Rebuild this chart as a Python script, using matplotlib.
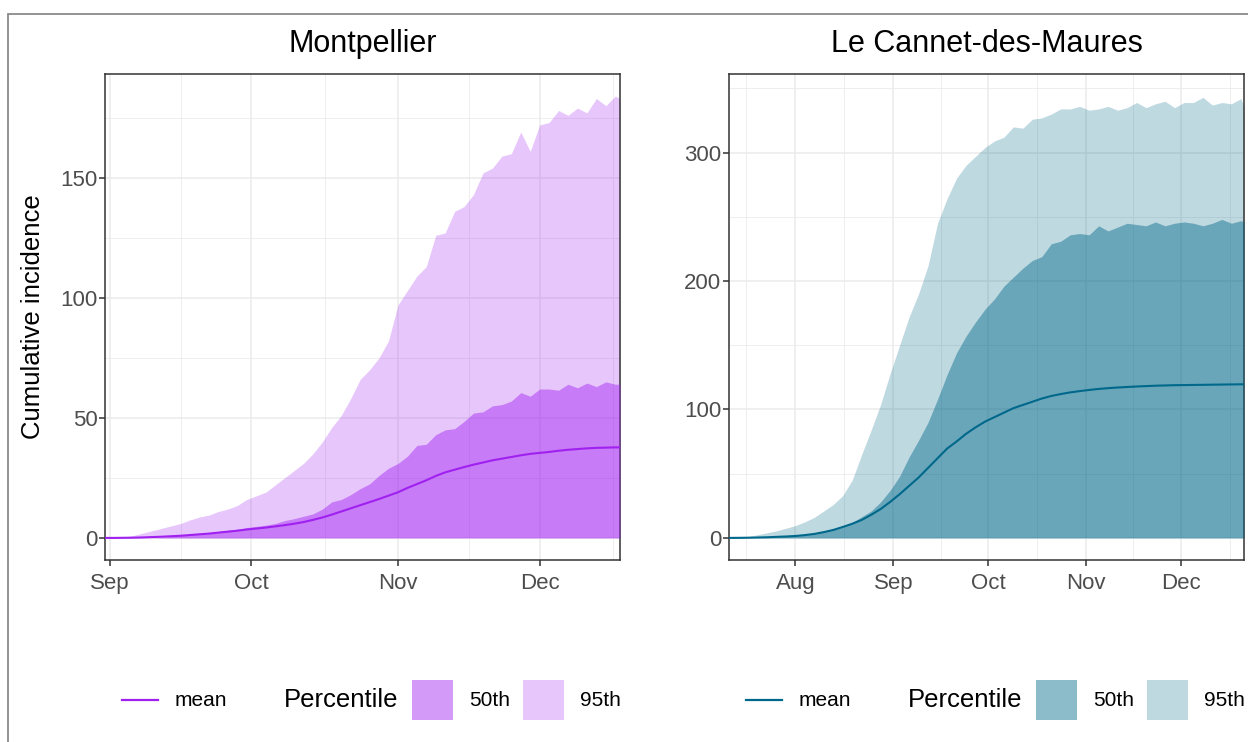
import matplotlib
matplotlib.use("Agg")
import matplotlib.pyplot as plt
import matplotlib.dates as mdates
import matplotlib.ticker as mticker
import numpy as np
import pandas as pd
from matplotlib.patches import Rectangle
from matplotlib.lines import Line2D

plt.rcParams['font.family'] = ['Liberation Sans', 'DejaVu Sans']

YEAR = 2021

# ---------------- Montpellier ----------------
mtp_dates = ["08-31", "09-02", "09-04", "09-06", "09-08", "09-10", "09-12", "09-14", "09-16", "09-18",
             "09-20", "09-22", "09-24", "09-26", "09-28", "09-30", "10-02", "10-04", "10-06", "10-08",
             "10-10", "10-12", "10-14", "10-16", "10-18", "10-20", "10-22", "10-24", "10-26", "10-28",
             "10-30", "11-01", "11-03", "11-05", "11-07", "11-09", "11-11", "11-13", "11-15", "11-17",
             "11-19", "11-21", "11-23", "11-25", "11-27", "11-29", "12-01", "12-03", "12-05", "12-07",
             "12-09", "12-11", "12-13", "12-15", "12-17", "12-18"]
mtp_p95 = [0, 0, 0.3, 1, 2, 3, 4, 5, 6, 7.5,
           8.7, 9.5, 11, 12, 13.5, 16, 17.5, 19, 22, 25,
           28, 31, 35, 40, 46, 51, 58, 66, 70, 75,
           82, 97, 103, 109, 113, 126, 127, 136, 138, 143,
           152, 154, 159, 160, 169, 161, 172, 173, 178, 176,
           179, 177, 183, 180, 184, 183]
mtp_p50 = [0, 0, 0, 0, 0, 0, 0.2, 0.6, 1, 1.4,
           1.8, 2.2, 2.7, 3.2, 3.6, 4.3, 4.8, 5.3, 6, 7.2,
           8, 9, 10, 12, 15, 16, 18, 20.5, 22.5, 26,
           29, 31, 34, 38.5, 39, 43, 45, 45.5, 48.5, 52,
           52.5, 55, 55.5, 57, 60.5, 59, 62, 62, 61.5, 64,
           62.5, 64.5, 63, 65, 64, 64]
mtp_mean = [0, 0, 0.05, 0.1, 0.2, 0.35, 0.5, 0.7, 0.9, 1.2,
            1.5, 1.8, 2.2, 2.6, 3.0, 3.5, 3.9, 4.3, 4.8, 5.3,
            5.9, 6.6, 7.5, 8.5, 9.7, 11, 12.3, 13.6, 14.9, 16.2,
            17.6, 19, 20.8, 22.4, 24, 25.8, 27.3, 28.4, 29.5, 30.5,
            31.4, 32.3, 33, 33.7, 34.4, 35, 35.4, 35.8, 36.3, 36.7,
            37, 37.3, 37.5, 37.6, 37.7, 37.7]

# ---------------- Le Cannet-des-Maures ----------------
lcm_dates = ["07-11", "07-14", "07-17", "07-20", "07-23", "07-26", "07-29", "08-01", "08-04", "08-07",
             "08-10", "08-13", "08-16", "08-19", "08-22", "08-25", "08-28", "08-31", "09-03", "09-06",
             "09-09", "09-12", "09-15", "09-18", "09-21", "09-24", "09-27", "09-30", "10-03", "10-06",
             "10-09", "10-12", "10-15", "10-18", "10-21", "10-24", "10-27", "10-30", "11-02", "11-05",
             "11-08", "11-11", "11-14", "11-17", "11-20", "11-23", "11-26", "11-29", "12-02", "12-05",
             "12-08", "12-11", "12-14", "12-17", "12-20", "12-21"]
lcm_p95 = [0, 0.3, 1, 2.5, 4, 5.5, 7.5, 9.6, 12.5, 16,
           21, 26, 33, 45, 65, 84, 104, 128, 150, 172,
           190, 212, 245, 264, 280, 290, 297, 304, 309, 312,
           320, 319, 326, 327, 330, 334, 334, 336, 333, 334,
           336, 333, 335, 339, 335, 338, 340, 335, 339, 339,
           343, 337, 339, 338, 342, 336]
lcm_p50 = [0, 0, 0, 0, 0.3, 0.7, 1.2, 1.8, 2.5, 3.5,
           4.8, 6.5, 8.5, 12, 16.5, 21, 28, 37, 48, 63,
           76, 90, 108, 127, 144, 157, 168, 178, 186, 196,
           203, 210, 216, 219, 229, 231, 236, 237, 236, 243,
           239, 242, 245, 244, 243, 246, 243, 245, 246, 245,
           243, 245, 248, 245, 247, 246]
lcm_mean = [0, 0.05, 0.15, 0.3, 0.5, 0.8, 1.1, 1.5, 2.2, 3.1,
            4.5, 6.2, 8.5, 11, 14, 18, 22.5, 28, 34, 40.5,
            47, 54.5, 62, 69.5, 75, 81, 86, 90.5, 94, 97.5,
            101, 103.5, 106, 108.5, 110.5, 112, 113.3, 114.3, 115.2, 116,
            116.6, 117.1, 117.5, 117.9, 118.2, 118.5, 118.7, 118.9, 119, 119.1,
            119.2, 119.3, 119.4, 119.5, 119.6, 119.6]

panels = [
    dict(title="Montpellier", dates=mtp_dates, p95=mtp_p95, p50=mtp_p50, mean=mtp_mean,
         color="#A020F0", ymajor=50, yminor=25, ylim=(-9.2, 193.2), left=105),
    dict(title="Le Cannet-des-Maures", dates=lcm_dates, p95=lcm_p95, p50=lcm_p50, mean=lcm_mean,
         color="#00688B", ymajor=100, yminor=50, ylim=(-17.2, 361.2), left=729),
]

W, H = 1248, 742
fig = plt.figure(figsize=(W / 100, H / 100), dpi=100)
fig.patch.set_facecolor("white")


def fx(x):
    return x / W


def fy(y):
    return 1 - y / H


# outer border (screenshot frame)
fig.add_artist(Rectangle((fx(8), -0.05), 1.1, fy(14) + 0.05, transform=fig.transFigure,
                         fill=False, edgecolor="#8a8a8a", lw=1.3))

ax_top, ax_bot, ax_w = 74, 560, 515
GRID = "#EBEBEB"
DARK = "#333333"

for i, p in enumerate(panels):
    ax = fig.add_axes([fx(p["left"]), fy(ax_bot), ax_w / W, (ax_bot - ax_top) / H])
    d = pd.to_datetime([f"{YEAR}-{s}" for s in p["dates"]])
    ax.fill_between(d, 0, p["p95"], color=p["color"], alpha=0.25, lw=0, zorder=2)
    ax.fill_between(d, 0, p["p50"], color=p["color"], alpha=0.45, lw=0, zorder=3)
    ax.plot(d, p["mean"], color=p["color"], lw=1.5, zorder=4)

    ax.set_xlim(d[0], d[-1])
    ax.set_ylim(*p["ylim"])

    ax.xaxis.set_major_locator(mdates.MonthLocator())
    ax.xaxis.set_major_formatter(mdates.DateFormatter("%b"))
    months = pd.date_range(d[0] - pd.offsets.MonthBegin(2), d[-1] + pd.offsets.MonthBegin(2), freq="MS")
    mnum = mdates.date2num(months)
    ax.xaxis.set_minor_locator(mticker.FixedLocator((mnum[:-1] + mnum[1:]) / 2))
    ax.yaxis.set_major_locator(mticker.MultipleLocator(p["ymajor"]))
    ax.yaxis.set_minor_locator(mticker.MultipleLocator(p["yminor"]))

    ax.grid(which="major", color=GRID, lw=1.1, zorder=0)
    ax.grid(which="minor", color=GRID, lw=0.6, zorder=0)
    ax.set_axisbelow(True)
    for s in ax.spines.values():
        s.set_color(DARK)
        s.set_linewidth(1.1)
    ax.tick_params(which="major", length=4, width=1.1, color=DARK, labelcolor="#4D4D4D",
                   labelsize=16)
    ax.tick_params(axis="x", which="major", pad=5.5)
    ax.tick_params(axis="y", which="major", pad=1.5)
    ax.tick_params(which="minor", length=0)

    cx = p["left"] + ax_w / 2
    fig.text(fx(cx), fy(52), p["title"], ha="center", va="baseline", fontsize=22, color="black")

    # legend
    x0 = p["left"] + 17
    ly = 700
    fig.add_artist(Line2D([fx(x0), fx(x0 + 36)], [fy(ly), fy(ly)], color=p["color"], lw=1.6,
                          transform=fig.transFigure))
    fig.text(fx(x0 + 53), fy(ly), "mean", ha="left", va="center", fontsize=15)
    fig.text(fx(x0 + 162), fy(ly), "Percentile", ha="left", va="center", fontsize=18.5)
    for k, (off, alpha, lab) in enumerate([(290, 0.45, "50th"), (401, 0.25, "95th")]):
        fig.add_artist(Rectangle((fx(x0 + off), fy(ly + 20)), 41 / W, 40 / H, transform=fig.transFigure,
                                 facecolor=p["color"], alpha=alpha, lw=0))
        fig.text(fx(x0 + off + 57), fy(ly), lab, ha="left", va="center", fontsize=15)

    if i == 0:
        fig.text(fx(33), fy((ax_top + ax_bot) / 2), "Cumulative incidence", rotation=90,
                 ha="center", va="center", fontsize=18.5)

fig.savefig("out.png", dpi=100)
